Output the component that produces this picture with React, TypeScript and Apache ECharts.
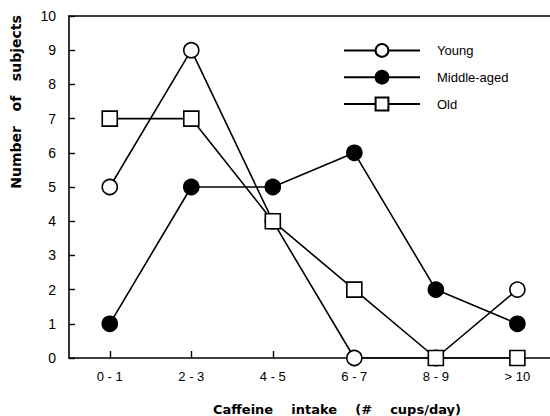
import React, { useEffect, useRef } from "react";
import * as echarts from "echarts";

const categories = ["0 - 1", "2 - 3", "4 - 5", "6 - 7", "8 - 9", "> 10"];
const young = [5, 9, 4, 0, 0, 2];
const middleAged = [1, 5, 5, 6, 2, 1];
const old = [7, 7, 4, 2, 0, 0];
const yTicks = [0, 1, 2, 3, 4, 5, 6, 7, 8, 9, 10];

const FONT = "Liberation Sans";
const TITLE_FONT = "DejaVu Sans";

export default function App() {
  const ref = useRef<HTMLDivElement>(null);
  useEffect(() => {
    document.body.style.margin = "0";
    const chart = echarts.init(ref.current!, null, { renderer: "svg" });
    const toPts = (arr: number[]) => arr.map((v, i) => [i, v]);
    const lineStyle = { color: "#000", width: 1.6 };
    const idx = categories.map((_, i) => i);
    chart.setOption({
      animation: false,
      backgroundColor: "#fff",
      grid: { left: 69, right: 0, top: 16, bottom: 58 },
      legend: {
        orient: "vertical",
        left: 338,
        top: 38,
        itemWidth: 76,
        itemHeight: 16,
        itemGap: 12,
        textStyle: { color: "#000", fontFamily: FONT, fontSize: 13, padding: [0, 0, 0, 12] },
        data: ["Young", "Middle-aged", "Old"],
      },
      xAxis: [
        {
          type: "value",
          min: -0.5,
          max: 5.4,
          splitLine: { show: false },
          axisLine: { show: true, onZero: false, lineStyle: { color: "#000", width: 1.6 } },
          axisTick: {
            show: true,
            inside: true,
            length: 7,
            customValues: idx,
            lineStyle: { color: "#000", width: 1.4 },
          },
          axisLabel: {
            customValues: idx,
            formatter: (v: number) => categories[Math.round(v)] ?? "",
            color: "#000",
            fontFamily: FONT,
            fontSize: 13,
            margin: 12,
          },
        },
        {
          type: "value",
          position: "top",
          min: -0.5,
          max: 5.4,
          splitLine: { show: false },
          axisLine: { show: true, onZero: false, lineStyle: { color: "#000", width: 1.6 } },
          axisTick: { show: false },
          axisLabel: { show: false },
        },
      ],
      yAxis: {
        type: "value",
        min: 0,
        max: 10,
        interval: 1,
        splitLine: { show: false },
        axisLine: { show: true, onZero: false, lineStyle: { color: "#000", width: 1.6 } },
        axisTick: { show: true, inside: true, length: 6, lineStyle: { color: "#000", width: 1.4 } },
        axisLabel: {
          color: "#000",
          fontFamily: FONT,
          fontSize: 14,
          margin: 13,
          formatter: (v: number) => (yTicks.includes(v) ? String(v) : ""),
        },
      },
      graphic: [
        {
          type: "text",
          x: 337,
          y: 409,
          style: {
            text: "Caffeine    intake    (#    cups/day)",
            fontFamily: TITLE_FONT,
            fontWeight: "bold",
            fontSize: 13,
            fill: "#000",
            align: "center",
            verticalAlign: "middle",
          },
        },
        {
          type: "text",
          x: 16,
          y: 102,
          rotation: Math.PI / 2,
          style: {
            text: "Number   of   subjects",
            fontFamily: TITLE_FONT,
            fontWeight: "bold",
            fontSize: 14,
            fill: "#000",
            align: "center",
            verticalAlign: "middle",
          },
        },
      ],
      series: [
        {
          name: "Young",
          type: "line",
          data: toPts(young),
          symbol: "circle",
          symbolSize: 15,
          lineStyle,
          itemStyle: { color: "#fff", borderColor: "#000", borderWidth: 1.6 },
          z: 2,
        },
        {
          name: "Middle-aged",
          type: "line",
          data: toPts(middleAged),
          symbol: "circle",
          symbolSize: 15,
          lineStyle,
          itemStyle: { color: "#000", borderColor: "#000", borderWidth: 1.6 },
          z: 3,
        },
        {
          name: "Old",
          type: "line",
          data: toPts(old),
          symbol: "rect",
          symbolSize: 15,
          lineStyle,
          itemStyle: { color: "#fff", borderColor: "#000", borderWidth: 1.6 },
          z: 4,
        },
      ],
    });
    return () => chart.dispose();
  }, []);
  return <div ref={ref} style={{ width: 550, height: 416 }} />;
}
